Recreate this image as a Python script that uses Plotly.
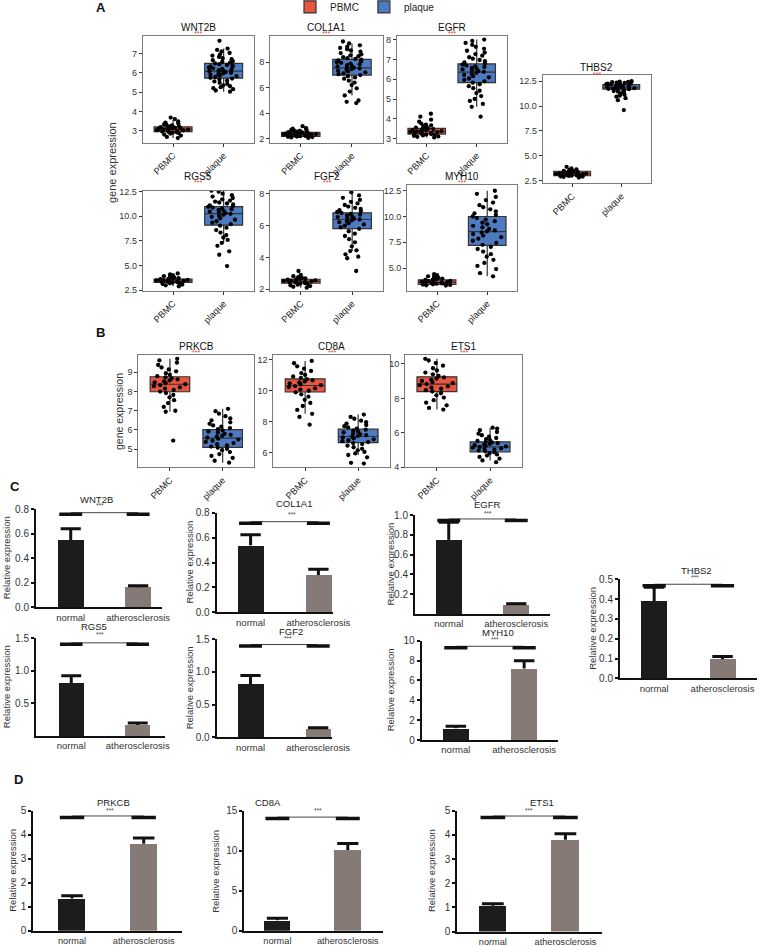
import plotly.graph_objects as go

W, H = 784, 946
FONT = "Liberation Sans, Arial, sans-serif"

# ======================= DATA =======================
groups = ["PBMC", "plaque"]
box_genes = ["WNT2B", "COL1A1", "EGFR", "THBS2", "RGS5", "FGF2", "MYH10", "PRKCB", "CD8A", "ETS1"]

# box statistics
pbmc_q1 = [2.95, 2.20, 3.22, 3.00, 3.28, 2.38, 3.40, 7.99, 9.90, 8.39]
pbmc_med = [3.08, 2.38, 3.35, 3.20, 3.45, 2.50, 3.60, 8.38, 10.32, 8.83]
pbmc_q3 = [3.20, 2.52, 3.51, 3.45, 3.63, 2.63, 3.85, 8.77, 10.75, 9.25]
pbmc_lo = [2.62, 2.08, 3.05, 2.82, 2.90, 2.10, 3.30, 6.95, 8.50, 7.35]
pbmc_hi = [3.55, 2.80, 3.75, 3.75, 4.20, 2.90, 4.40, 9.70, 11.90, 10.30]
plaque_q1 = [5.72, 6.98, 5.83, 11.70, 9.10, 5.81, 7.20, 5.10, 6.65, 4.90]
plaque_med = [6.08, 7.55, 6.36, 11.90, 10.27, 6.39, 8.53, 5.58, 7.04, 5.19]
plaque_q3 = [6.48, 8.20, 6.78, 12.17, 10.99, 6.81, 10.00, 6.02, 7.51, 5.48]
plaque_lo = [5.02, 5.40, 4.60, 11.05, 7.30, 4.40, 4.20, 4.30, 5.85, 4.40]
plaque_hi = [7.25, 9.45, 8.02, 12.50, 12.60, 8.10, 12.50, 7.10, 8.45, 6.30]

# individual samples (estimated from the jittered dots)
wnt2b_pbmc = [2.62, 2.68, 2.75, 2.8, 2.85, 2.88, 2.9, 2.92, 2.94, 2.96, 2.98, 3.0, 3.02, 3.03, 3.05, 3.06,
              3.08, 3.09, 3.1, 3.12, 3.13, 3.15, 3.17, 3.18, 3.2, 3.22, 3.24, 3.27, 3.3, 3.33, 3.37, 3.42,
              3.48, 3.6, 3.68]
wnt2b_plaque = [5.02, 5.08, 5.15, 5.2, 5.25, 5.3, 5.35, 5.42, 5.48, 5.55, 5.6, 5.65, 5.7, 5.74, 5.78, 5.82,
                5.86, 5.9, 5.94, 5.97, 6.0, 6.03, 6.06, 6.08, 6.1, 6.13, 6.16, 6.2, 6.23, 6.26, 6.3, 6.33,
                6.37, 6.4, 6.44, 6.48, 6.52, 6.56, 6.6, 6.65, 6.7, 6.75, 6.82, 6.88, 6.95, 7.02, 7.1, 7.18,
                7.25, 7.65]
col1a1_pbmc = [2.08, 2.12, 2.15, 2.17, 2.19, 2.2, 2.22, 2.24, 2.26, 2.28, 2.3, 2.32, 2.34, 2.35, 2.37, 2.38,
               2.4, 2.42, 2.43, 2.45, 2.47, 2.49, 2.51, 2.53, 2.55, 2.58, 2.6, 2.63, 2.66, 2.7, 2.75, 2.8,
               2.85, 3.0]
col1a1_plaque = [4.8, 4.9, 5.0, 5.4, 5.7, 5.95, 6.2, 6.4, 6.55, 6.7, 6.8, 6.9, 6.98, 7.05, 7.12, 7.2, 7.27,
                 7.33, 7.4, 7.45, 7.5, 7.55, 7.6, 7.65, 7.7, 7.76, 7.82, 7.88, 7.94, 8.0, 8.06, 8.12, 8.18,
                 8.24, 8.3, 8.38, 8.45, 8.52, 8.6, 8.7, 8.8, 8.9, 9.0, 9.1, 9.2, 9.3, 9.45, 9.6]
egfr_pbmc = [3.05, 3.08, 3.1, 3.13, 3.15, 3.18, 3.2, 3.22, 3.24, 3.26, 3.28, 3.3, 3.32, 3.34, 3.35, 3.37,
             3.39, 3.41, 3.43, 3.45, 3.47, 3.5, 3.52, 3.55, 3.58, 3.62, 3.66, 3.7, 3.75, 3.85, 3.95, 4.1, 4.25]
egfr_plaque = [4.1, 4.6, 4.75, 4.9, 5.0, 5.15, 5.3, 5.42, 5.55, 5.65, 5.75, 5.83, 5.9, 5.97, 6.04, 6.1, 6.16,
               6.22, 6.28, 6.33, 6.38, 6.42, 6.46, 6.5, 6.54, 6.58, 6.62, 6.66, 6.7, 6.75, 6.8, 6.86, 6.92,
               6.98, 7.05, 7.12, 7.2, 7.28, 7.36, 7.45, 7.55, 7.65, 7.75, 7.85, 7.95, 8.02]
thbs2_pbmc = [2.82, 2.88, 2.92, 2.95, 2.98, 3.0, 3.02, 3.05, 3.08, 3.1, 3.12, 3.14, 3.16, 3.18, 3.2, 3.22,
              3.24, 3.27, 3.3, 3.33, 3.36, 3.4, 3.44, 3.48, 3.52, 3.58, 3.65, 3.75, 3.9]
thbs2_plaque = [9.6, 10.6, 10.8, 10.95, 11.05, 11.15, 11.25, 11.35, 11.45, 11.52, 11.6, 11.66, 11.7, 11.74,
                11.78, 11.81, 11.84, 11.87, 11.9, 11.92, 11.95, 11.98, 12.0, 12.03, 12.06, 12.09, 12.12,
                12.15, 12.18, 12.21, 12.24, 12.27, 12.3, 12.33, 12.36, 12.4, 12.43, 12.46, 12.5]
rgs5_pbmc = [2.9, 3.0, 3.08, 3.14, 3.2, 3.24, 3.28, 3.32, 3.35, 3.38, 3.41, 3.44, 3.46, 3.49, 3.52, 3.55,
             3.58, 3.61, 3.64, 3.68, 3.72, 3.78, 3.85, 3.92, 4.0, 4.1, 4.2]
rgs5_plaque = [4.95, 6.1, 6.45, 7.0, 7.3, 7.6, 7.85, 8.1, 8.35, 8.6, 8.85, 9.05, 9.2, 9.35, 9.5, 9.65, 9.8,
               9.95, 10.05, 10.15, 10.25, 10.32, 10.4, 10.48, 10.56, 10.64, 10.72, 10.8, 10.88, 10.96, 11.04,
               11.12, 11.2, 11.3, 11.4, 11.5, 11.6, 11.72, 11.85, 12.0, 12.15, 12.3, 12.5, 12.6]
fgf2_pbmc = [2.1, 2.16, 2.2, 2.25, 2.29, 2.33, 2.36, 2.39, 2.42, 2.44, 2.46, 2.48, 2.5, 2.52, 2.54, 2.56,
             2.58, 2.6, 2.62, 2.65, 2.68, 2.72, 2.76, 2.82, 2.9, 3.15]
fgf2_plaque = [3.15, 3.95, 4.05, 4.2, 4.4, 4.45, 4.7, 4.95, 5.15, 5.35, 5.5, 5.65, 5.8, 5.9, 6.0, 6.08, 6.15,
               6.22, 6.28, 6.34, 6.39, 6.44, 6.49, 6.54, 6.59, 6.64, 6.69, 6.74, 6.8, 6.86, 6.92, 6.98, 7.05,
               7.12, 7.2, 7.3, 7.4, 7.5, 7.62, 7.75, 7.9, 8.1]
myh10_pbmc = [3.3, 3.33, 3.36, 3.39, 3.42, 3.45, 3.48, 3.51, 3.54, 3.57, 3.6, 3.63, 3.66, 3.69, 3.72, 3.76,
              3.8, 3.84, 3.88, 3.93, 3.98, 4.05, 4.12, 4.2, 4.3, 4.4]
myh10_plaque = [4.2, 4.5, 4.9, 5.2, 5.5, 5.8, 6.1, 6.35, 6.6, 6.85, 7.05, 7.25, 7.45, 7.65, 7.85, 8.0, 8.15,
                8.3, 8.45, 8.55, 8.65, 8.8, 8.95, 9.1, 9.25, 9.4, 9.55, 9.7, 9.85, 10.0, 10.15, 10.3, 10.5,
                10.7, 10.9, 11.1, 11.35, 11.6, 11.9, 12.2, 12.5]
prkcb_pbmc = [5.45, 6.95, 7.0, 7.2, 7.4, 7.55, 7.7, 7.82, 7.92, 8.0, 8.08, 8.15, 8.22, 8.28, 8.33, 8.38,
              8.43, 8.48, 8.53, 8.58, 8.63, 8.68, 8.74, 8.8, 8.87, 8.95, 9.05, 9.15, 9.25, 9.38, 9.5, 9.62, 9.7]
prkcb_plaque = [4.3, 4.4, 4.55, 4.65, 4.75, 4.85, 4.95, 5.02, 5.08, 5.14, 5.2, 5.26, 5.32, 5.38, 5.44, 5.5,
                5.55, 5.6, 5.65, 5.7, 5.75, 5.8, 5.86, 5.92, 5.98, 6.04, 6.1, 6.17, 6.24, 6.32, 6.4, 6.5,
                6.6, 6.72, 6.85, 6.98, 7.1]
cd8a_pbmc = [7.8, 8.3, 8.5, 8.75, 9.0, 9.2, 9.4, 9.6, 9.75, 9.88, 9.98, 10.06, 10.14, 10.22, 10.28, 10.34,
             10.4, 10.46, 10.52, 10.58, 10.65, 10.72, 10.8, 10.9, 11.0, 11.12, 11.25, 11.4, 11.55, 11.75, 11.9]
cd8a_plaque = [5.3, 5.35, 5.7, 5.85, 5.95, 6.05, 6.15, 6.25, 6.35, 6.45, 6.55, 6.62, 6.68, 6.74, 6.8, 6.86,
               6.92, 6.98, 7.03, 7.08, 7.13, 7.18, 7.24, 7.3, 7.36, 7.42, 7.48, 7.55, 7.62, 7.7, 7.78, 7.87,
               7.96, 8.06, 8.18, 8.3, 8.45]
ets1_pbmc = [7.35, 7.45, 7.6, 7.75, 7.9, 8.05, 8.18, 8.3, 8.4, 8.48, 8.56, 8.63, 8.7, 8.77, 8.83, 8.89,
             8.95, 9.01, 9.08, 9.15, 9.22, 9.3, 9.4, 9.5, 9.62, 9.75, 9.9, 10.05, 10.2, 10.3]
ets1_plaque = [4.3, 4.4, 4.5, 4.6, 4.68, 4.75, 4.82, 4.88, 4.93, 4.98, 5.02, 5.06, 5.1, 5.14, 5.18, 5.21,
               5.24, 5.28, 5.32, 5.36, 5.4, 5.44, 5.48, 5.53, 5.58, 5.64, 5.7, 5.78, 5.86, 5.95, 6.05, 6.15,
               6.25, 6.3]

pbmc_points = [wnt2b_pbmc, col1a1_pbmc, egfr_pbmc, thbs2_pbmc, rgs5_pbmc, fgf2_pbmc, myh10_pbmc,
               prkcb_pbmc, cd8a_pbmc, ets1_pbmc]
plaque_points = [wnt2b_plaque, col1a1_plaque, egfr_plaque, thbs2_plaque, rgs5_plaque, fgf2_plaque,
                 myh10_plaque, prkcb_plaque, cd8a_plaque, ets1_plaque]

box_yticks = [[3, 4, 5, 6, 7], [2, 4, 6, 8], [3, 4, 5, 6, 7, 8], [2.5, 5, 7.5, 10, 12.5],
              [2.5, 5, 7.5, 10, 12.5], [2, 4, 6, 8], [5, 7.5, 10, 12.5], [5, 6, 7, 8, 9],
              [6, 8, 10, 12], [4, 6, 8, 10]]

# qPCR bar data
bar_genes = ["WNT2B", "COL1A1", "EGFR", "THBS2", "RGS5", "FGF2", "MYH10", "PRKCB", "CD8A", "ETS1"]
bar_groups = ["normal", "atherosclerosis"]
normal_mean = [0.547, 0.538, 0.749, 0.390, 0.810, 0.805, 1.18, 1.34, 1.32, 1.07]
normal_err = [0.093, 0.085, 0.178, 0.070, 0.116, 0.140, 0.20, 0.12, 0.25, 0.08]
ath_mean = [0.163, 0.300, 0.092, 0.096, 0.170, 0.128, 7.20, 3.62, 10.1, 3.80]
ath_err = [0.012, 0.045, 0.012, 0.014, 0.030, 0.018, 0.78, 0.24, 0.80, 0.25]
sig_height = [0.770, 0.728, 0.960, 0.475, 1.430, 1.420, 9.44, 4.78, 14.2, 4.78]
bar_yticks = [[0, 0.2, 0.4, 0.6, 0.8], [0, 0.2, 0.4, 0.6, 0.8], [0.2, 0.4, 0.6, 0.8, 1.0],
              [0, 0.1, 0.2, 0.3, 0.4, 0.5], [0.5, 1.0, 1.5], [0, 0.5, 1.0, 1.5],
              [0, 2, 4, 6, 8, 10], [0, 1, 2, 3, 4, 5], [0, 5, 10, 15], [0, 1, 2, 3, 4, 5]]
bar_ymax = [0.8, 0.8, 1.0, 0.5, 1.5, 1.5, 10, 5, 15, 5]

# ======================= LAYOUT GEOMETRY (px) =======================
box_frames = [(142.7, 254, 36, 142.7), (270, 382.7, 36, 142.7), (396.7, 506.7, 36, 142.7),
              (542.7, 650.7, 75.3, 183.3), (142.7, 254, 190.7, 290.7), (270, 383, 190.7, 290.7),
              (407, 517.3, 185, 290.7), (138.3, 254.3, 355, 467.3), (273.3, 390, 355, 467.3),
              (405, 522, 355, 467.3)]
box_yranges = [(2.38, 7.9), (1.71, 10.03), (2.78, 8.2), (2.24, 13.1), (2.45, 12.6), (1.91, 8.2),
               (2.8, 13.06), (4.06, 9.9), (5.06, 12.28), (4.0, 10.52)]
box_tickfmt = ["d", "d", "d", ".1f", ".1f", "d", ".1f", "d", "d", "d"]
box_title_y = [27.5, 27.5, 27.5, 67.8, 176.5, 176.5, 176, 346.2, 346.2, 346.2]

bar_frames = [(36, 161.7, 509, 607.3), (216.7, 333.3, 512.7, 612.3), (415, 550, 515, 614),
              (620, 756.7, 579.3, 678.3), (36, 165, 638.3, 736), (216.7, 331.7, 639.3, 737.3),
              (421.7, 558.3, 640.7, 740), (33.3, 181.7, 810.7, 930.8), (244.3, 383, 810.7, 930.8),
              (457.3, 601.7, 810.7, 931.5)]
bar_xrange = [(-0.515, 1.35), (-0.5, 1.22), (-0.5, 1.5), (-0.5, 1.5), (-0.53, 1.41), (-0.5, 1.2),
              (-0.5, 1.5), (-0.54, 1.53), (-0.47, 1.5), (-0.49, 1.5)]
bar_tickfmt = [".1f", ".1f", ".1f", ".1f", ".1f", ".1f", "d", "d", "d", "d"]
bar_title_pos = [(96.7, 499.5), (294, 503.5), (487.5, 504.5), (696.7, 570.5), (94, 626.2), (291, 631.2),
                 (498, 632.8), (113, 802.8), (268, 802.8), (542, 802.8)]
bar_star_pos = [(100, 506), (292, 514), (488, 513.5), (695, 577.5), (100, 634.5), (288, 638.5),
                (495, 639.5), (110, 810.5), (318, 810.5), (529, 810.5)]
bar_ytitle_x = [6, 189, 390, 593, 6, 189, 390, 13, 216, 431]
bar_xfont = [9.5, 9.5, 9.5, 9.5, 9.5, 9.5, 9.5, 9.2, 9.2, 9.2]

RED, BLUE = "#E8563F", "#4C7BC2"
NORMAL_C, ATH_C = "#1c1c1c", "#857a75"
FRAME = "#7a7a7a"


def fx(p):
    return p / W


def fy(p):
    return 1 - p / H


fig = go.Figure()
layout = {}
annotations = []
axn = 0


def axis_keys(n):
    return ("xaxis" if n == 1 else f"xaxis{n}", "yaxis" if n == 1 else f"yaxis{n}",
            "x" if n == 1 else f"x{n}", "y" if n == 1 else f"y{n}")


# ---------------- Panels A & B: box plots ----------------
for i, gene in enumerate(box_genes):
    axn += 1
    xk, yk, xa, ya = axis_keys(axn)
    l, r, t, b = box_frames[i]
    layout[xk] = dict(domain=[fx(l), fx(r)], anchor=ya, range=[-0.6, 1.6], tickvals=[0, 1],
                      ticktext=groups, tickangle=-45, showline=True, mirror=True, linecolor=FRAME,
                      linewidth=1, ticks="outside", ticklen=3, tickcolor="#333", showgrid=False,
                      zeroline=False, automargin=False, tickfont=dict(size=9.2, color="#222"))
    layout[yk] = dict(domain=[fy(b), fy(t)], anchor=xa, range=list(box_yranges[i]),
                      tickvals=box_yticks[i], tickformat=box_tickfmt[i], showline=True, mirror=True,
                      linecolor=FRAME, linewidth=1, ticks="outside", ticklen=3, tickcolor="#333",
                      showgrid=False, zeroline=False, automargin=False, tickfont=dict(size=9, color="#333"))
    stats = [(pbmc_q1, pbmc_med, pbmc_q3, pbmc_lo, pbmc_hi, pbmc_points, RED),
             (plaque_q1, plaque_med, plaque_q3, plaque_lo, plaque_hi, plaque_points, BLUE)]
    for j, (q1, md, q3, lo, hi, pts, col) in enumerate(stats):
        fig.add_trace(go.Box(x=[j], q1=[q1[i]], median=[md[i]], q3=[q3[i]], lowerfence=[lo[i]],
                             upperfence=[hi[i]], width=0.75, fillcolor=col,
                             line=dict(color="#333333", width=1.2), whiskerwidth=0, boxpoints=False,
                             name=groups[j], legendgroup=groups[j], showlegend=(i == 0),
                             xaxis=xa, yaxis=ya, hoverinfo="skip"))
        fig.add_trace(go.Box(x=[j] * len(pts[i]), y=pts[i], boxpoints="all", jitter=0.9, pointpos=0,
                             width=0.75, fillcolor="rgba(0,0,0,0)",
                             line=dict(color="rgba(0,0,0,0)", width=0), whiskerwidth=0,
                             marker=dict(color="black", size=4.3), showlegend=False,
                             xaxis=xa, yaxis=ya, hoverinfo="skip"))
    cx = (l + r) / 2
    annotations.append(dict(x=fx(cx), y=fy(box_title_y[i]), xref="paper", yref="paper", text=gene,
                            showarrow=False, xanchor="center", yanchor="middle",
                            font=dict(size=10, color="#111")))
    annotations.append(dict(x=fx(cx), y=fy(box_title_y[i] + 6.5), xref="paper", yref="paper",
                            text="***", showarrow=False, xanchor="center", yanchor="middle",
                            font=dict(size=7, color="#e8453c")))

# ---------------- Panels C & D: bar charts ----------------
for i, gene in enumerate(bar_genes):
    axn += 1
    xk, yk, xa, ya = axis_keys(axn)
    l, r, t, z = bar_frames[i]
    layout[xk] = dict(domain=[fx(l), fx(r)], anchor=ya, range=list(bar_xrange[i]), tickvals=[0, 1],
                      ticktext=bar_groups, showline=True, linecolor="#111", linewidth=2, ticks="",
                      showgrid=False, zeroline=False, automargin=False,
                      tickfont=dict(size=bar_xfont[i], color="#333"))
    layout[yk] = dict(domain=[fy(z), fy(t)], anchor=xa, range=[0, bar_ymax[i]], tickvals=bar_yticks[i],
                      tickformat=bar_tickfmt[i], showline=True, linecolor="#111", linewidth=2,
                      ticks="outside", ticklen=3, tickwidth=1.5, tickcolor="#111", showgrid=False,
                      zeroline=False, automargin=False, tickfont=dict(size=10, color="#333"))
    fig.add_trace(go.Bar(x=[0, 1], y=[normal_mean[i], ath_mean[i]], width=0.38,
                         marker=dict(color=[NORMAL_C, ATH_C], line=dict(width=0)),
                         showlegend=False, xaxis=xa, yaxis=ya, hoverinfo="skip"))
    # upward error bars (stem + cap)
    cw = 0.15
    tops = [normal_mean[i] + normal_err[i], ath_mean[i] + ath_err[i]]
    bases = [normal_mean[i], ath_mean[i]]
    ex, ey = [], []
    for k in range(2):
        ex += [k, k, None, k - cw, k + cw, None]
        ey += [bases[k], tops[k], None, tops[k], tops[k], None]
    fig.add_trace(go.Scatter(x=ex, y=ey, mode="lines", line=dict(color="#111", width=3),
                             showlegend=False, xaxis=xa, yaxis=ya, hoverinfo="skip", cliponaxis=False))
    # significance bracket
    h = sig_height[i]
    off = bar_ymax[i] / (z - t) * 1.5
    fig.add_trace(go.Scatter(x=[0, 1], y=[h, h], mode="lines", line=dict(color="#444", width=1),
                             showlegend=False, xaxis=xa, yaxis=ya, hoverinfo="skip", cliponaxis=False))
    sw = 0.17
    fig.add_trace(go.Scatter(x=[-sw, sw, None, 1 - sw, 1 + sw], y=[h - off, h - off, None, h - off, h - off],
                             mode="lines", line=dict(color="#111", width=3.5), showlegend=False,
                             xaxis=xa, yaxis=ya, hoverinfo="skip", cliponaxis=False))
    tx, ty = bar_title_pos[i]
    annotations.append(dict(x=fx(tx), y=fy(ty), xref="paper", yref="paper", text=gene, showarrow=False,
                            xanchor="center", yanchor="middle", font=dict(size=9.5, color="#222")))
    sx, sy = bar_star_pos[i]
    annotations.append(dict(x=fx(sx), y=fy(sy), xref="paper", yref="paper", text="***", showarrow=False,
                            xanchor="center", yanchor="middle", font=dict(size=6.5, color="#444")))
    annotations.append(dict(x=fx(bar_ytitle_x[i]), y=fy((t + z) / 2), xref="paper", yref="paper",
                            text="Relative expression", textangle=-90, showarrow=False,
                            xanchor="center", yanchor="middle", font=dict(size=9.5, color="#333")))

# axis titles and panel letters
annotations.append(dict(x=fx(112), y=fy(163), xref="paper", yref="paper", text="gene expression",
                        textangle=-90, showarrow=False, xanchor="center", yanchor="middle",
                        font=dict(size=11, color="#333")))
annotations.append(dict(x=fx(119), y=fy(411), xref="paper", yref="paper", text="gene expression",
                        textangle=-90, showarrow=False, xanchor="center", yanchor="middle",
                        font=dict(size=10.5, color="#333")))
for letter, (lx, ly) in zip(["A", "B", "C", "D"], [(101, 8), (100, 332), (15, 486), (18, 779)]):
    annotations.append(dict(x=fx(lx), y=fy(ly), xref="paper", yref="paper", text=f"<b>{letter}</b>",
                            showarrow=False, xanchor="center", yanchor="middle",
                            font=dict(size=13, color="#111")))

fig.update_layout(
    width=W, height=H, margin=dict(l=0, r=0, t=0, b=0, autoexpand=False),
    paper_bgcolor="white", plot_bgcolor="white",
    font=dict(family=FONT, color="#222"),
    boxmode="overlay", bargap=0,
    legend=dict(orientation="h", xref="paper", yref="paper", x=fx(290), y=1.008,
                xanchor="left", yanchor="top", font=dict(size=10, color="#222"), itemwidth=30,
                bgcolor="rgba(0,0,0,0)"),
    annotations=annotations,
    **layout,
)

fig.write_html("out.html", config={"displayModeBar": False},
               post_script="document.body.style.margin='0px';document.body.style.overflow='hidden';")
